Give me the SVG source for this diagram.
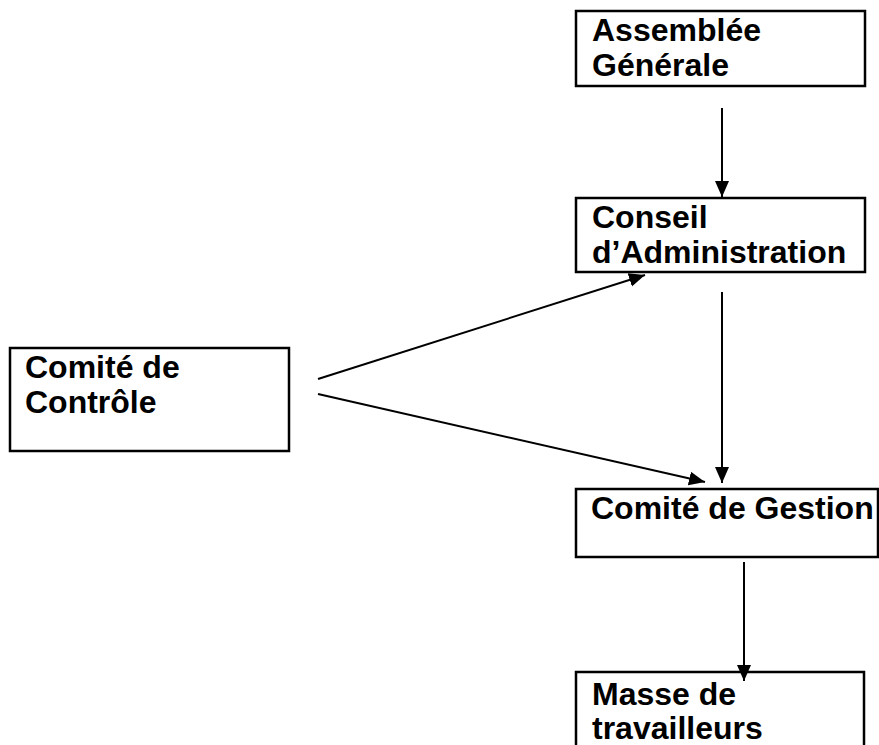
<svg xmlns="http://www.w3.org/2000/svg" width="879" height="745" viewBox="0 0 879 745">
<style>
.box{fill:#fff;stroke:#000;stroke-width:2.5}
.t{font-family:"Liberation Sans",Arial,sans-serif;font-weight:bold;font-size:32px;fill:#000}
.c{stroke:#000;stroke-width:2;fill:none;marker-end:url(#ah)}
</style>
<defs>
<marker id="ah" markerUnits="userSpaceOnUse" markerWidth="16" markerHeight="16" viewBox="0 0 16 16" refX="16" refY="8" orient="auto">
<path d="M0,1 L16,8 L0,15 Z" fill="#000"/>
</marker>
</defs>
<rect width="879" height="745" fill="#fff"/>
<g id="n1"><rect class="box" x="576" y="11" width="289" height="75"/><text class="t" x="592" y="41">Assemblée</text><text class="t" x="592" y="76">Générale</text></g>
<g id="n2"><rect class="box" x="576" y="198" width="289" height="74"/><text class="t" x="592" y="228">Conseil</text><text class="t" x="592" y="263">d’Administration</text></g>
<g id="n3"><rect class="box" x="10" y="348" width="279" height="103"/><text class="t" x="25" y="378">Comité de</text><text class="t" x="25" y="413">Contrôle</text></g>
<g id="n4"><rect class="box" x="576" y="489" width="302" height="68"/><text class="t" x="591" y="519">Comité de Gestion</text></g>
<g id="n5"><rect class="box" x="576" y="672" width="288" height="80"/><text class="t" x="592" y="705">Masse de</text><text class="t" x="592" y="739">travailleurs</text></g>
<g id="connectors">
<line class="c" x1="722" y1="108" x2="722" y2="197"/>
<line class="c" x1="722" y1="292" x2="722" y2="483"/>
<line class="c" x1="318" y1="379" x2="645" y2="275"/>
<line class="c" x1="318" y1="394" x2="705" y2="482"/>
<line class="c" x1="744" y1="562" x2="744" y2="681"/>
</g>
</svg>
